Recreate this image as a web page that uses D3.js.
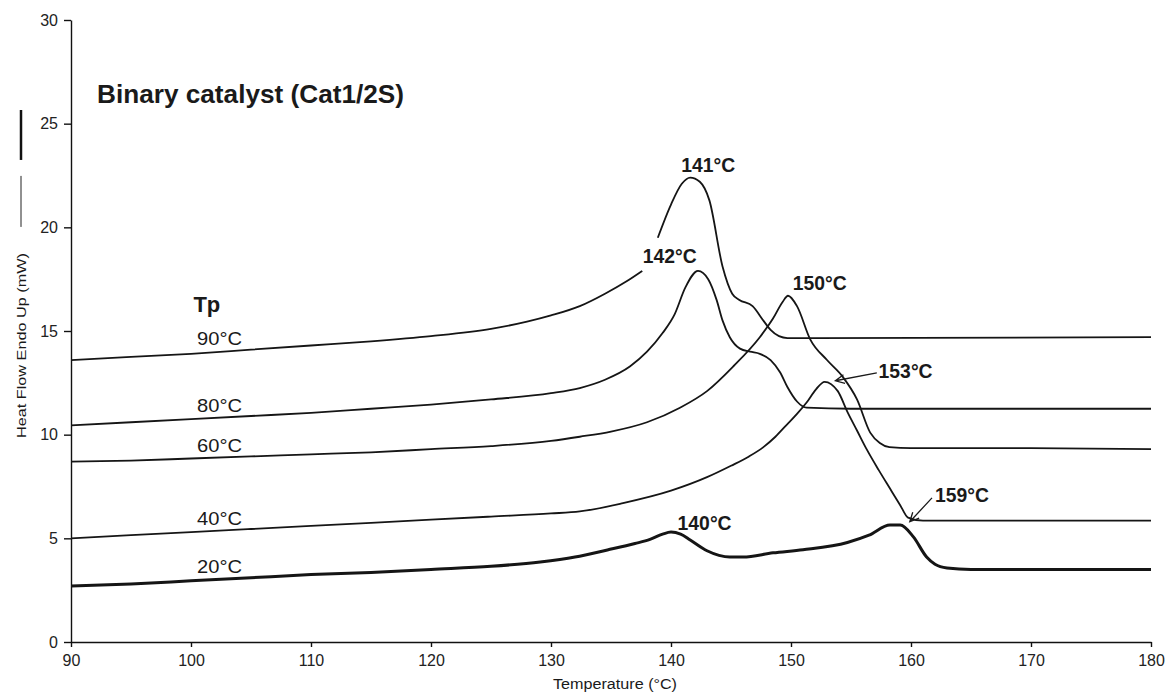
<!DOCTYPE html>
<html>
<head>
<meta charset="utf-8">
<style>
body { margin: 0; background: #fff; }
svg { display: block; }
.axis path, .axis line { stroke: #111; stroke-width: 1.4px; }
.curve { fill: none; stroke: #151515; stroke-width: 1.8px; }
.curve.thick { stroke-width: 3px; }
.lbl { font-family: "Liberation Sans", Arial, sans-serif; fill: #1a1a1a; }
</style>
</head>
<body>
<svg width="1170" height="694"></svg>
<script src="https://cdn.jsdelivr.net/npm/d3@7"></script>
<script>

// axis ticks
var xTicks = [90, 100, 110, 120, 130, 140, 150, 160, 170, 180];
var yTicks = [0, 5, 10, 15, 20, 25, 30];

// curves: temperature (°C) and heat flow (mW)
// null marks the break in the 90°C trace under the 142°C label
var t90 = [90, 95, 100, 105, 110, 115, 120, 125, 128, 130, 132.4, 134.5, 136.3, 137.6, 138.2, 138.9, 140, 140.9, 141.6, 142.4, 143.2, 144.3, 145.1, 145.7, 146.8, 147.7, 148.3, 149, 149.7, 152, 180];
var v90 = [13.6, 13.75, 13.9, 14.1, 14.3, 14.5, 14.75, 15.1, 15.45, 15.75, 16.2, 16.8, 17.4, 17.9, null, 19.5, 21.1, 22.1, 22.4, 22.2, 21.3, 18.1, 16.8, 16.5, 16.2, 15.5, 15.05, 14.75, 14.66, 14.66, 14.7];

var t80 = [90, 95, 100, 105, 110, 115, 120, 125, 130, 132.4, 134.5, 136.6, 138, 139.3, 140.3, 141.2, 142.25, 143.1, 143.8, 144.3, 144.9, 145.75, 146.6, 147.4, 148.3, 149.1, 149.7, 150.5, 151.3, 155, 180];
var v80 = [10.45, 10.6, 10.75, 10.9, 11.05, 11.25, 11.45, 11.7, 12.0, 12.25, 12.65, 13.3, 14.0, 14.9, 15.8, 17.1, 17.9, 17.5, 16.5, 15.5, 14.7, 14.15, 14.0, 13.9, 13.6, 13.0, 12.3, 11.6, 11.3, 11.25, 11.25];

var t60 = [90, 95, 100, 105, 110, 115, 120, 125, 130, 132.4, 135, 138, 140.75, 143, 145.2, 147.4, 148.5, 149.3, 149.75, 150.5, 151.6, 153, 154.3, 155.5, 156.6, 157.4, 158.2, 160, 170, 180];
var v60 = [8.7, 8.75, 8.85, 8.95, 9.05, 9.15, 9.3, 9.45, 9.7, 9.9, 10.15, 10.6, 11.3, 12.1, 13.3, 14.7, 15.6, 16.4, 16.7, 16.2, 14.6, 13.6, 12.8, 11.7, 10.1, 9.6, 9.4, 9.35, 9.35, 9.3];

var t40 = [90, 95, 100, 105, 110, 115, 120, 125, 130, 132.4, 136, 140, 143, 145, 146.5, 147.7, 148.7, 149.6, 150.5, 151.3, 152.1, 152.8, 153.9, 154.7, 155.5, 156.3, 157.3, 158.25, 159.1, 159.75, 161, 180];
var v40 = [5.0, 5.15, 5.3, 5.45, 5.6, 5.75, 5.9, 6.05, 6.2, 6.3, 6.7, 7.3, 7.95, 8.5, 8.95, 9.4, 9.9, 10.45, 11.0, 11.55, 12.2, 12.55, 12.1, 11.1, 10.2, 9.3, 8.3, 7.4, 6.6, 6.0, 5.85, 5.85];

var t20 = [90, 95, 100, 105, 110, 115, 120, 125, 129.1, 132, 134.7, 137, 138.25, 139.3, 140, 140.8, 141.6, 143, 144, 144.9, 146, 148.5, 151, 154.7, 156.5, 158.25, 159.1, 160.2, 161.3, 162, 163, 165, 180];
var v20 = [2.7, 2.8, 2.95, 3.1, 3.25, 3.35, 3.5, 3.65, 3.86, 4.1, 4.44, 4.75, 4.95, 5.2, 5.3, 5.2, 4.92, 4.4, 4.18, 4.1, 4.1, 4.3, 4.45, 4.8, 5.15, 5.64, 5.64, 5.07, 4.1, 3.75, 3.57, 3.5, 3.5];

var tpNames = ["90°C", "80°C", "60°C", "40°C", "20°C"];
var tpLabelY = [14.33, 11.1, 9.17, 5.64, 3.33];

// peak labels: text, temperature, heat flow of baseline
var peakText = ["141°C", "142°C", "150°C", "140°C"];
var peakT = [143.1, 139.9, 152.4, 142.8];
var peakV = [22.67, 18.28, 17.0, 5.4];

// arrowed labels: text, label pos, arrow start, arrow tip
var arrowText = ["153°C", "159°C"];
var arrowLabelT = [157.3, 162.0];
var arrowLabelV = [12.73, 6.75];
var arrowFromT = [157.15, 161.75];
var arrowFromV = [12.98, 6.95];
var arrowToT = [153.7, 159.9];
var arrowToV = [12.6, 5.8];

var svg = d3.select("svg");

var x = d3.scaleLinear().domain([90, 180]).range([71, 1151]);
var y = d3.scaleLinear().domain([0, 30]).range([642, 20]);

function zip(ts, vs) {
  return ts.map(function(t, i) { return [t, vs[i]]; });
}

var series = [
  {pts: zip(t90, v90), thick: false},
  {pts: zip(t80, v80), thick: false},
  {pts: zip(t60, v60), thick: false},
  {pts: zip(t40, v40), thick: false},
  {pts: zip(t20, v20), thick: true}
];

var line = d3.line()
  .defined(function(d) { return d[1] != null; })
  .x(function(d) { return x(d[0]); })
  .y(function(d) { return y(d[1]); })
  .curve(d3.curveMonotoneX);

// axes
var yAxis = svg.append("g")
  .attr("class", "axis")
  .attr("transform", "translate(" + x(90) + ",0)")
  .call(d3.axisLeft(y).tickValues(yTicks).tickSize(7).tickSizeOuter(0).tickPadding(6));

var xAxis = svg.append("g")
  .attr("class", "axis")
  .attr("transform", "translate(0," + y(0) + ")")
  .call(d3.axisBottom(x).tickValues(xTicks).tickSize(5).tickSizeOuter(0).tickPadding(8));

[yAxis, xAxis].forEach(function(a) {
  a.attr("font-size", 16)
   .attr("font-family", "'Liberation Sans', Arial, sans-serif");
  a.selectAll("text").attr("fill", "#222");
});

// curves
svg.append("g").selectAll("path")
  .data(series)
  .enter().append("path")
    .attr("class", function(d) { return d.thick ? "curve thick" : "curve"; })
    .attr("d", function(d) { return line(d.pts); });

// axis titles
svg.append("text")
  .attr("class", "lbl")
  .attr("x", 615)
  .attr("y", 689)
  .attr("text-anchor", "middle")
  .attr("font-size", 14)
  .attr("textLength", 124)
  .attr("lengthAdjust", "spacingAndGlyphs")
  .text("Temperature (°C)");

svg.append("text")
  .attr("class", "lbl")
  .attr("transform", "translate(26," + y(14.3) + ") rotate(-90)")
  .attr("text-anchor", "middle")
  .attr("font-size", 13.5)
  .attr("textLength", 185)
  .attr("lengthAdjust", "spacingAndGlyphs")
  .text("Heat Flow Endo Up (mW)");

// line-style marks beside the y title
svg.append("line")
  .attr("x1", 21).attr("x2", 21)
  .attr("y1", y(22.48)).attr("y2", y(20.02))
  .attr("stroke", "#222").attr("stroke-width", 1);
svg.append("line")
  .attr("x1", 21).attr("x2", 21)
  .attr("y1", y(25.66)).attr("y2", y(23.25))
  .attr("stroke", "#111").attr("stroke-width", 2.5);

// title
svg.append("text")
  .attr("class", "lbl")
  .attr("x", 97)
  .attr("y", 103)
  .attr("font-size", 25)
  .attr("font-weight", "bold")
  .attr("textLength", 307)
  .attr("lengthAdjust", "spacingAndGlyphs")
  .text("Binary catalyst (Cat1/2S)");

// Tp legend
svg.append("text")
  .attr("class", "lbl")
  .attr("x", x(100.2))
  .attr("y", y(15.9))
  .attr("font-size", 22)
  .attr("font-weight", "bold")
  .text("Tp");

svg.append("g").selectAll("text")
  .data(tpNames)
  .enter().append("text")
    .attr("class", "lbl")
    .attr("x", x(100.5))
    .attr("y", function(d, i) { return y(tpLabelY[i]); })
    .attr("font-size", 19)
    .attr("textLength", 45)
    .attr("lengthAdjust", "spacingAndGlyphs")
    .text(function(d) { return d; });

// peak labels
svg.append("g").selectAll("text")
  .data(peakText)
  .enter().append("text")
    .attr("class", "lbl")
    .attr("x", function(d, i) { return x(peakT[i]); })
    .attr("y", function(d, i) { return y(peakV[i]); })
    .attr("text-anchor", "middle")
    .attr("font-size", 21)
    .attr("font-weight", "bold")
    .attr("textLength", 54)
    .attr("lengthAdjust", "spacingAndGlyphs")
    .text(function(d) { return d; });

// arrowed labels
var arr = svg.append("g").selectAll("g")
  .data(arrowText)
  .enter().append("g");

arr.append("text")
  .attr("class", "lbl")
  .attr("x", function(d, i) { return x(arrowLabelT[i]); })
  .attr("y", function(d, i) { return y(arrowLabelV[i]); })
  .attr("font-size", 21)
  .attr("font-weight", "bold")
  .attr("textLength", 54)
  .attr("lengthAdjust", "spacingAndGlyphs")
  .text(function(d) { return d; });

arr.append("path")
  .attr("fill", "none")
  .attr("stroke", "#1a1a1a")
  .attr("stroke-width", 1.3)
  .attr("d", function(d, i) {
    var x0 = x(arrowFromT[i]), y0 = y(arrowFromV[i]);
    var x1 = x(arrowToT[i]), y1 = y(arrowToV[i]);
    var a = Math.atan2(y1 - y0, x1 - x0), h = 10, s = 0.45;
    var ax = x1 - h * Math.cos(a - s), ay = y1 - h * Math.sin(a - s);
    var bx = x1 - h * Math.cos(a + s), by = y1 - h * Math.sin(a + s);
    return "M" + x0 + "," + y0 + "L" + x1 + "," + y1 +
      "M" + ax + "," + ay + "L" + x1 + "," + y1 + "L" + bx + "," + by;
  });

</script>
</body>
</html>
